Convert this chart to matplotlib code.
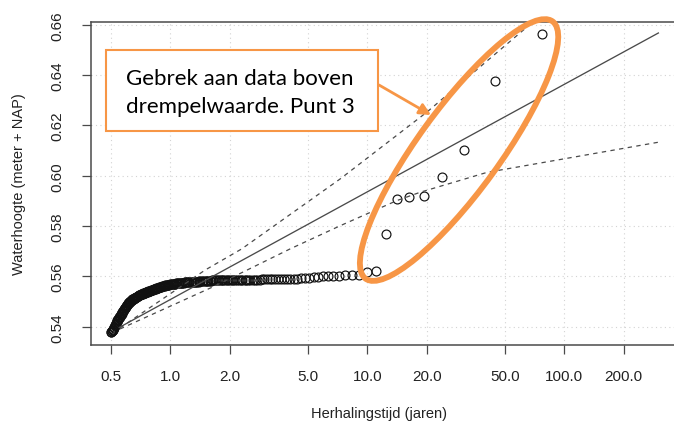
import matplotlib
matplotlib.use("Agg")
import matplotlib.pyplot as plt
from matplotlib import transforms
from matplotlib.patches import Ellipse, FancyArrowPatch, Rectangle

plt.rcParams["font.family"] = ["Liberation Sans", "DejaVu Sans"]

# Empirical return periods (years) of the ranked exceedances, largest first
return_period = [
    77.4, 44.2, 30.9, 23.8, 19.3, 16.3, 14.1, 12.4, 11.0, 9.97,
    9.09, 8.35, 7.73, 7.19, 6.72, 6.31, 5.94, 5.62, 5.33, 5.07,
    4.83, 4.61, 4.41, 4.23, 4.07, 3.91, 3.77, 3.64, 3.51, 3.40,
    3.29, 3.19, 3.09, 3.00, 2.92, 2.84, 2.76, 2.69, 2.62, 2.55,
    2.49, 2.43, 2.38, 2.32, 2.27, 2.22, 2.18, 2.13, 2.09, 2.05,
    2.01, 1.97, 1.93, 1.90, 1.86, 1.83, 1.80, 1.77, 1.74, 1.71,
    1.68, 1.65, 1.63, 1.60, 1.58, 1.55, 1.53, 1.51, 1.49, 1.46,
    1.44, 1.42, 1.40, 1.39, 1.37, 1.35, 1.33, 1.32, 1.30, 1.28,
    1.27, 1.25, 1.24, 1.22, 1.21, 1.19, 1.18, 1.17, 1.15, 1.14,
    1.13, 1.12, 1.10, 1.09, 1.08, 1.07, 1.06, 1.05, 1.04, 1.03,
    1.02, 1.007, 0.997, 0.987, 0.978, 0.969, 0.960, 0.951, 0.942, 0.934,
    0.925, 0.917, 0.909, 0.901, 0.893, 0.885, 0.878, 0.870, 0.863, 0.856,
    0.849, 0.842, 0.835, 0.828, 0.821, 0.815, 0.809, 0.803, 0.796, 0.790,
    0.784, 0.778, 0.772, 0.767, 0.761, 0.756, 0.750, 0.745, 0.739, 0.734,
    0.729, 0.724, 0.719, 0.714, 0.709, 0.704, 0.699, 0.694, 0.690, 0.685,
    0.681, 0.676, 0.672, 0.667, 0.663, 0.659, 0.655, 0.651, 0.647, 0.642,
    0.639, 0.635, 0.631, 0.627, 0.623, 0.619, 0.616, 0.612, 0.608, 0.605,
    0.601, 0.598, 0.594, 0.591, 0.588, 0.584, 0.581, 0.578, 0.575, 0.571,
    0.568, 0.565, 0.562, 0.559, 0.556, 0.553, 0.550, 0.547, 0.544, 0.541,
    0.538, 0.536, 0.533, 0.530, 0.527, 0.525, 0.522, 0.519, 0.517, 0.514,
    0.512, 0.509, 0.507, 0.504, 0.502, 0.499,
]

# Observed water levels (m + NAP) in the same order
water_level = [
    0.6563, 0.6377, 0.6102, 0.5996, 0.5921, 0.5914, 0.5907, 0.5770, 0.5620, 0.5616,
    0.5607, 0.5605, 0.5604, 0.5603, 0.5602, 0.5601, 0.5600, 0.5598, 0.5596, 0.5594,
    0.5592, 0.5592, 0.5591, 0.5591, 0.5590, 0.5590, 0.5590, 0.5589, 0.5589, 0.5589,
    0.5588, 0.5588, 0.5588, 0.5588, 0.5588, 0.5587, 0.5587, 0.5587, 0.5587, 0.5587,
    0.5587, 0.5587, 0.5587, 0.5587, 0.5587, 0.5586, 0.5586, 0.5586, 0.5586, 0.5586,
    0.5586, 0.5586, 0.5586, 0.5586, 0.5586, 0.5585, 0.5585, 0.5585, 0.5585, 0.5585,
    0.5584, 0.5584, 0.5584, 0.5583, 0.5583, 0.5582, 0.5582, 0.5581, 0.5581, 0.5580,
    0.5580, 0.5580, 0.5580, 0.5579, 0.5579, 0.5579, 0.5579, 0.5578, 0.5578, 0.5578,
    0.5578, 0.5577, 0.5577, 0.5577, 0.5576, 0.5576, 0.5576, 0.5575, 0.5575, 0.5575,
    0.5574, 0.5574, 0.5573, 0.5573, 0.5572, 0.5572, 0.5571, 0.5571, 0.5570, 0.5570,
    0.5569, 0.5569, 0.5568, 0.5567, 0.5567, 0.5566, 0.5565, 0.5565, 0.5564, 0.5563,
    0.5562, 0.5561, 0.5560, 0.5559, 0.5558, 0.5557, 0.5556, 0.5555, 0.5554, 0.5553,
    0.5552, 0.5551, 0.5550, 0.5549, 0.5548, 0.5547, 0.5546, 0.5545, 0.5544, 0.5543,
    0.5542, 0.5541, 0.5540, 0.5539, 0.5538, 0.5537, 0.5536, 0.5535, 0.5534, 0.5533,
    0.5532, 0.5531, 0.5530, 0.5529, 0.5528, 0.5527, 0.5526, 0.5525, 0.5524, 0.5522,
    0.5521, 0.5520, 0.5519, 0.5517, 0.5516, 0.5515, 0.5513, 0.5512, 0.5510, 0.5509,
    0.5507, 0.5505, 0.5503, 0.5501, 0.5499, 0.5497, 0.5495, 0.5493, 0.5490, 0.5488,
    0.5485, 0.5482, 0.5479, 0.5476, 0.5473, 0.5470, 0.5467, 0.5464, 0.5461, 0.5458,
    0.5455, 0.5452, 0.5449, 0.5446, 0.5443, 0.5440, 0.5437, 0.5434, 0.5431, 0.5428,
    0.5425, 0.5422, 0.5418, 0.5414, 0.5410, 0.5406, 0.5402, 0.5398, 0.5394, 0.5390,
    0.5387, 0.5385, 0.5383, 0.5381, 0.5379, 0.5378,
]

# Fitted return-level curve and its confidence limits
fit_period = [0.55, 10.0, 300.0]
fit_level = [0.5397, 0.5936, 0.6567]
upper_period = [0.555, 1.5, 2.3, 7.27, 20.0, 68.3, 150.0]
upper_level = [0.5395, 0.5625, 0.5709, 0.5987, 0.6252, 0.6607, 0.6835]
lower_period = [0.555, 1.62, 4.05, 7.27, 14.1, 18.5, 40.4, 300.0]
lower_level = [0.5391, 0.5556, 0.5709, 0.5801, 0.5901, 0.5934, 0.6013, 0.6133]

x_ticks = [0.5, 1, 2, 5, 10, 20, 50, 100, 200]
x_tick_labels = ["0.5", "1.0", "2.0", "5.0", "10.0", "20.0", "50.0", "100.0", "200.0"]
y_ticks = [0.54, 0.56, 0.58, 0.60, 0.62, 0.64, 0.66]
y_tick_labels = ["0.54", "0.56", "0.58", "0.60", "0.62", "0.64", "0.66"]

note_lines = ["Gebrek aan data boven", "drempelwaarde. Punt 3"]
x_title = "Herhalingstijd (jaren)"
y_title = "Waterhoogte (meter + NAP)"

ORANGE = "#F79646"
INK = "#4a4a4a"
W, H = 674, 427

fig = plt.figure(figsize=(W / 100, H / 100), dpi=100)
ax = fig.add_axes([90.7 / W, 1 - 345.7 / H, (694 - 90.7) / W, (345.7 - 23.3) / H])
ax.set_xscale("log")
ax.set_xlim(0.394, 455)
ax.set_ylim(0.53285, 0.66095)

ax.set_xticks(x_ticks)
ax.set_xticklabels(x_tick_labels)
ax.xaxis.set_minor_locator(matplotlib.ticker.NullLocator())
ax.set_yticks(y_ticks)
ax.set_yticklabels(y_tick_labels, rotation=90, va="center")

ax.grid(True, color="#d3d3d3", linestyle=(0, (1, 3)), linewidth=0.8)
ax.set_axisbelow(True)

for sp in ax.spines.values():
    sp.set_color(INK)
    sp.set_linewidth(1.1)
ax.tick_params(axis="both", direction="out", length=6.8, width=0.9, color=INK,
               labelsize=11, labelcolor="#222222")
ax.tick_params(axis="x", pad=10.5)
ax.tick_params(axis="y", pad=12)

ax.plot(return_period, water_level, linestyle="none", marker="o", ms=6.4,
        mfc="none", mec="#111111", mew=0.85, zorder=3)
ax.plot(fit_period, fit_level, color=INK, lw=0.95, zorder=4)
ax.plot(upper_period, upper_level, color=INK, lw=0.9, dashes=(3.5, 3.5), zorder=4)
ax.plot(lower_period, lower_level, color=INK, lw=0.9, dashes=(3.5, 3.5), zorder=4)

ax.set_xlabel(x_title, fontsize=10.5, color="#222222")
ax.xaxis.label.set_va("center")
ax.xaxis.set_label_coords((379 - 90.7) / (694 - 90.7), (345.7 - 414) / (345.7 - 23.3))
ax.set_ylabel(y_title, fontsize=10.5, color="#222222")
ax.yaxis.label.set_va("center")
ax.yaxis.set_label_coords((19 - 90.7) / (694 - 90.7), 0.5)

# Highlight of the sparse upper tail
ring_tf = fig.dpi_scale_trans + transforms.ScaledTranslation(29.2, 0.6102, ax.transData)
ring = Ellipse((0, 0), width=3.18, height=0.82, angle=54, transform=ring_tf,
               fill=False, edgecolor=ORANGE, linewidth=4.2, clip_on=False, zorder=6)
fig.add_artist(ring)

# Callout box with note
box = Rectangle((105.7 / W, 1 - 131.7 / H), (378.3 - 105.7) / W, (131.7 - 50.7) / H,
                transform=fig.transFigure, facecolor="white", edgecolor=ORANGE,
                linewidth=1.5, zorder=7)
fig.add_artist(box)
for line, base in zip(note_lines, [85.0, 112.7]):
    fig.text(126 / W, 1 - base / H, line, family=["Lato", "DejaVu Sans"], fontsize=16,
             color="black", ha="left", va="baseline", zorder=8)

arrow = FancyArrowPatch((379 / W, 1 - 86 / H), (431 / W, 1 - 116 / H),
                        transform=fig.transFigure, arrowstyle="-|>", mutation_scale=17,
                        color=ORANGE, linewidth=2.0, shrinkA=0, shrinkB=0, zorder=7)
fig.add_artist(arrow)

fig.savefig("out.png", dpi=100, facecolor="white")
